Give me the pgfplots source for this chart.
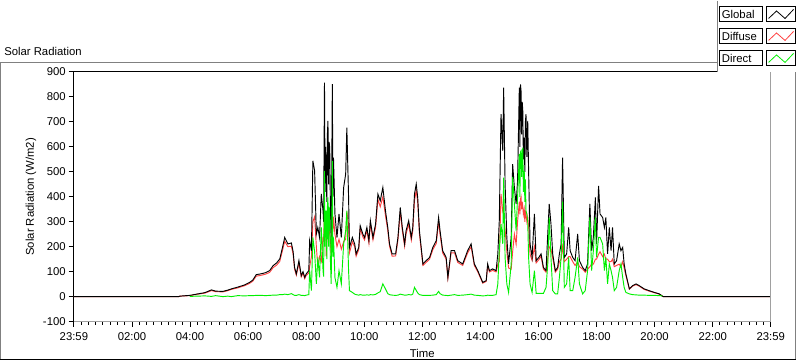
\documentclass[border=0pt]{standalone}
\usepackage{fontspec}
\setmainfont{Liberation Sans}
\usepackage{pgfplots}
\usepackage{pgfplotstable}
\pgfplotsset{compat=1.18}
\definecolor{glob}{RGB}{0,0,0}
\definecolor{diff}{RGB}{255,64,64}
\definecolor{dirc}{RGB}{0,240,0}
\definecolor{frame}{RGB}{128,128,128}
\definecolor{pgray}{RGB}{160,160,160}

\pgfplotstableread{
h G D B
0.00 0 0 0
3.60 0 0 0
3.65 2 2 0
3.99 5 4 1
4.27 11 10 2
4.51 16 14 3
4.74 27 24 1
4.88 22 20 4
5.13 21 19 0
5.30 26 24 2
5.42 31 29 0
5.64 38 35 4
5.88 47 44 3
6.05 57 53 4
6.16 66 62 4
6.28 88 82 5
6.47 92 86 5
6.60 96 90 4
6.74 104 97 5
6.86 124 116 6
6.98 135 126 6
7.09 151 141 8
7.19 200 188 8
7.26 237 222 10
7.37 211 200 8
7.49 215 202 12
7.55 180 170 8
7.60 117 110 5
7.66 91 86 5
7.75 144 134 8
7.83 84 79 5
7.89 100 94 5
7.95 77 72 4
8.00 91 85 6
8.09 104 95 8
8.12 224 120 104
8.18 184 160 24
8.23 544 300 237
8.29 504 320 180
8.35 251 200 51
8.40 277 120 157
8.46 237 160 77
8.52 411 140 277
8.58 344 240 104
8.60 300 220 80
8.63 857 350 504
8.65 420 250 200
8.67 600 300 300
8.69 504 160 344
8.71 380 220 150
8.73 650 320 360
8.75 704 300 397
8.77 450 260 200
8.79 620 300 360
8.81 597 250 344
8.83 400 230 160
8.86 211 160 51
8.88 500 280 250
8.90 851 300 544
8.92 400 260 160
8.94 557 320 237
8.99 331 250 77
9.06 237 200 37
9.13 331 230 104
9.21 237 190 51
9.29 437 220 211
9.36 491 230 264
9.40 677 340 344
9.46 397 290 104
9.49 197 175 24
9.59 237 220 17
9.67 211 200 10
9.72 171 162 8
9.81 197 188 6
9.86 284 272 8
9.95 251 240 6
10.01 237 227 6
10.09 277 266 7
10.16 224 214 6
10.21 304 292 8
10.30 237 227 7
10.39 291 278 9
10.47 411 390 15
10.55 384 360 20
10.64 437 400 51
10.73 344 325 31
10.81 277 265 12
10.87 211 202 8
10.96 171 162 6
11.08 171 163 5
11.16 237 227 6
11.24 357 340 10
11.31 277 265 8
11.39 211 202 6
11.44 264 252 6
11.53 304 290 8
11.62 237 226 7
11.67 277 264 10
11.73 411 385 37
11.79 451 425 25
11.84 397 378 15
11.90 264 252 8
12.02 131 125 5
12.13 144 137 5
12.25 157 150 5
12.36 197 188 6
12.48 224 213 8
12.56 317 300 21
12.61 264 250 12
12.70 184 175 6
12.82 157 150 5
12.88 77 73 4
12.99 184 175 6
13.11 184 175 8
13.22 144 137 5
13.39 131 125 6
13.56 184 175 8
13.68 211 200 10
13.79 131 125 6
13.91 104 99 5
14.08 57 54 3
14.20 64 61 4
14.25 131 125 6
14.31 104 99 5
14.42 111 105 5
14.54 104 99 8
14.60 171 130 51
14.65 304 140 184
14.71 731 411 291
14.77 584 340 211
14.80 837 330 477
14.85 451 270 157
14.91 237 180 51
14.97 131 115 17
15.06 237 110 131
15.11 531 180 480
15.17 437 250 371
15.23 371 210 264
15.28 464 300 397
15.34 837 380 571
15.36 600 330 400
15.38 850 390 580
15.40 824 400 584
15.42 650 350 480
15.44 780 380 560
15.46 744 360 597
15.48 550 330 420
15.51 637 350 504
15.53 500 300 380
15.55 700 340 470
15.57 731 330 344
15.60 560 300 330
15.63 704 320 300
15.66 504 280 157
15.71 211 170 51
15.78 157 145 17
15.86 331 200 104
15.92 144 135 13
16.01 157 148 13
16.09 171 162 13
16.17 117 110 13
16.26 104 98 37
16.32 251 150 131
16.37 371 200 317
16.43 291 190 157
16.49 171 155 24
16.58 104 98 11
16.66 117 110 11
16.72 171 140 77
16.78 211 150 157
16.83 557 200 380
16.89 157 140 37
16.97 171 150 51
17.04 277 160 157
17.09 184 160 24
17.18 157 140 24
17.26 144 125 77
17.35 251 140 157
17.41 144 120 51
17.52 117 110 11
17.61 104 98 24
17.69 131 110 104
17.77 371 120 317
17.83 184 130 104
17.89 237 130 184
17.96 397 150 317
18.00 211 150 157
18.07 444 170 237
18.12 331 180 237
18.21 317 160 211
18.27 277 170 104
18.32 317 150 157
18.38 171 150 51
18.44 277 140 131
18.50 184 140 104
18.55 277 150 77
18.61 131 120 24
18.69 144 125 37
18.78 211 130 104
18.84 184 120 131
18.90 197 140 77
18.95 131 115 37
19.01 91 85 17
19.13 31 30 11
19.24 44 42 8
19.36 51 48 7
19.47 44 42 6
19.64 31 29 6
19.81 24 22 5
19.99 17 16 5
20.16 11 10 4
20.27 2 2 3
20.30 0 0 0
24.00 0 0 0
}\solar

\begin{document}
\fontsize{8.5}{10}\selectfont
\begin{tikzpicture}
\begin{scope}[x=0.75pt,y=-0.75pt]
\path[use as bounding box] (0,0) rectangle (800,361);
% outer panel frame
\draw[frame,line width=0.75pt] (0.5,359) -- (0.5,61.7) -- (718,61.7);
\draw[frame,line width=0.75pt] (796.7,70) -- (796.7,359);
\draw[black,line width=0.75pt] (0.5,359.2) -- (797,359.2);
\node[anchor=base west,inner sep=0pt] at (4,55) {Solar Radiation};
\end{scope}

\begin{axis}[
  at={(55.5pt,-240.75pt)}, anchor=south west,
  scale only axis, width=523.3pt, height=187.5pt,
  xmin=0, xmax=24, ymin=-100, ymax=900,
  axis x line*=bottom, axis y line*=left,
  x axis line style={pgray,line width=0.75pt},
  y axis line style={black,line width=0.75pt},
  xtick={0,2,...,24},
  xticklabels={23:59,02:00,04:00,06:00,08:00,10:00,12:00,14:00,16:00,18:00,20:00,22:00,23:59},
  minor x tick num=7,
  ytick={-100,0,100,200,300,400,500,600,700,800,900},
  tick align=outside,
  major tick length=4pt, minor tick length=2.2pt,
  tick style={black,line width=0.7pt},
  /pgf/number format/assume math mode=true,
  ticklabel style={font=\fontsize{8.5}{10}\selectfont},
  yticklabel style={anchor=east,inner sep=0pt,xshift=-2pt},
  xticklabel style={anchor=base,inner sep=0pt,yshift=-10pt},
  xlabel={Time}, ylabel={Solar Radiation (W/m2)},
  label style={font=\fontsize{8.5}{10}\selectfont},
  xlabel style={at={(rel axis cs:0.5,0)},anchor=base,yshift=-27pt},
  ylabel style={at={([xshift=-32.25pt]rel axis cs:0,0.5)},anchor=center},
  clip=true,
]
\addplot[diff,line width=0.7pt] table[x=h,y=D] {\solar};
\addplot[glob,line width=0.7pt] table[x=h,y=G] {\solar};
\addplot[dirc,line width=0.7pt,restrict x to domain=3.9:20.28] table[x=h,y=B] {\solar};
\draw[black,line width=0.75pt] (rel axis cs:0,1) -- (rel axis cs:1,1);
\draw[pgray,line width=0.75pt] (rel axis cs:1,1) -- (rel axis cs:1,0);
\end{axis}

\begin{scope}[x=0.75pt,y=-0.75pt]
\fill[white] (717.5,-1) rectangle (801,71.5);
\draw[frame,line width=0.75pt] (718.3,0) -- (718.3,71.5);
\foreach \t/\name/\col in {6/Global/glob,28/Diffuse/diff,50/Direct/dirc}{
  \draw[black,line width=0.75pt] (720.8,\t) rectangle (763,\t+15);
  \node[anchor=base west,inner sep=0pt] at (722.5,\t+12) {\name};
  \draw[black,line width=0.75pt] (767.3,\t) rectangle (796.7,\t+15);
  \draw[\col,line width=0.6pt] (769.5,\t+11.5) -- (777.5,\t+4) -- (786,\t+11.5) -- (794.5,\t+2.5);
}
\end{scope}
\end{tikzpicture}
\end{document}
